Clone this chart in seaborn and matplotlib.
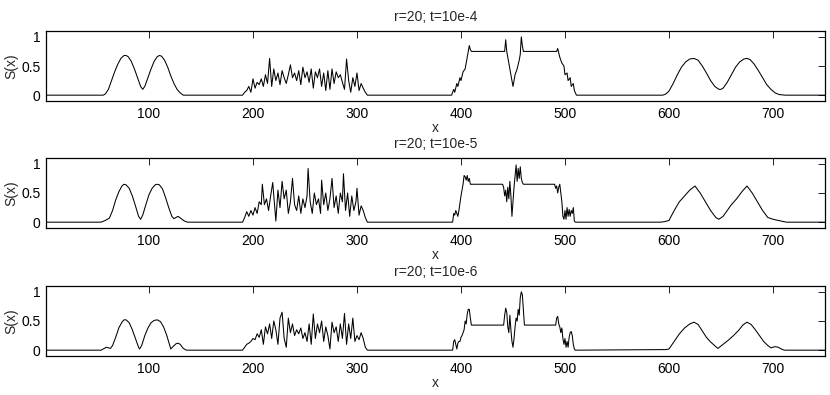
import matplotlib
matplotlib.use("Agg")
import matplotlib.pyplot as plt
import seaborn as sns

# ---------------- data ----------------
titles = ["r=20; t=10e-4", "r=20; t=10e-5", "r=20; t=10e-6"]
x_ticks = [100, 200, 300, 400, 500, 600, 700]
y_ticks = [0, 0.5, 1]
y_tick_labels = ["0", "0.5", "1"]

# panel 1 (t=10e-4)
p1_left_x = [1, 56, 58, 61, 64, 67, 70, 73, 76, 78, 80, 83, 86, 89, 92, 94, 96, 99, 102, 105, 108, 110, 112, 115, 118, 121, 124, 127, 130, 133]
p1_left_y = [0, 0, 0.02, 0.1, 0.25, 0.4, 0.53, 0.63, 0.68, 0.68, 0.66, 0.58, 0.45, 0.3, 0.15, 0.1, 0.15, 0.3, 0.45, 0.58, 0.66, 0.68, 0.67, 0.6, 0.48, 0.33, 0.2, 0.1, 0.04, 0]
p1_noise_x = list(range(190, 312, 2))
p1_noise_y = [0, 0.05, 0.08, 0.15, 0.05, 0.28, 0.12, 0.22, 0.18, 0.28, 0.15, 0.35, 0.2, 0.63, 0.15, 0.45,
              0.25, 0.38, 0.18, 0.42, 0.3, 0.2, 0.35, 0.52, 0.3, 0.38, 0.25, 0.42, 0.18, 0.48, 0.3, 0.4,
              0.22, 0.45, 0.12, 0.4, 0.3, 0.45, 0.15, 0.38, 0.08, 0.42, 0.1, 0.45, 0.2, 0.4, 0.3, 0.35,
              0.22, 0.1, 0.62, 0.25, 0.05, 0.3, 0.15, 0.38, 0.08, 0.2, 0.12, 0.05, 0]
p1_mid_x = [391, 393, 394, 396, 397, 399, 400, 402, 404, 405, 407, 408, 409, 410, 442, 443, 444, 446, 448, 449, 450,
            452, 454, 456, 457, 458, 459, 460, 492, 493, 495, 497, 499, 500, 502, 503, 505, 506, 508, 509, 511]
p1_mid_y = [0, 0.1, 0.05, 0.2, 0.15, 0.3, 0.25, 0.4, 0.45, 0.55, 0.75, 0.85, 0.78, 0.75, 0.75, 0.95, 0.75, 0.55, 0.35, 0.25, 0.15,
            0.35, 0.45, 0.6, 0.7, 1.0, 0.85, 0.75, 0.75, 0.8, 0.65, 0.55, 0.5, 0.35, 0.38, 0.25, 0.3, 0.15, 0.2, 0.08, 0]
p1_right_x = [594, 597, 600, 604, 608, 612, 616, 620, 624, 628, 632, 636, 640, 644, 648, 650, 652, 656, 660, 664, 668, 672, 675, 678,
              682, 686, 690, 694, 698, 702, 706, 712, 750]
p1_right_y = [0, 0.02, 0.07, 0.2, 0.35, 0.48, 0.57, 0.62, 0.63, 0.6, 0.5, 0.38, 0.25, 0.15, 0.1, 0.1, 0.12, 0.22, 0.35, 0.48, 0.57, 0.62, 0.63, 0.61,
              0.53, 0.42, 0.3, 0.18, 0.1, 0.04, 0.01, 0, 0]

# panel 2 (t=10e-5)
p2_left_x = [1, 54, 58, 62, 65, 68, 71, 74, 76, 78, 81, 84, 87, 90, 92, 94, 97, 100, 103, 106, 108, 110, 113, 116, 119, 122, 124, 126, 128, 131, 134, 137]
p2_left_y = [0, 0, 0.03, 0.07, 0.2, 0.38, 0.52, 0.62, 0.65, 0.64, 0.58, 0.45, 0.28, 0.1, 0.05, 0.12, 0.3, 0.47, 0.58, 0.64, 0.65, 0.64, 0.57, 0.42, 0.25, 0.1, 0.06, 0.08, 0.1, 0.06, 0.02, 0]
p2_noise_x = [190, 192, 194, 196, 198, 200, 202, 204, 206, 208, 209, 211, 213, 215, 217, 219, 221, 222, 224, 226, 228, 230,
              232, 234, 236, 238, 240, 242, 244, 246, 248, 250, 252, 253, 255, 257, 259, 261, 263, 265, 266, 268, 270,
              272, 274, 276, 278, 280, 282, 284, 286, 287, 289, 291, 293, 295, 297, 299, 300, 302, 304, 306, 308, 310]
p2_noise_y = [0, 0.08, 0.18, 0.1, 0.2, 0.12, 0.25, 0.15, 0.35, 0.3, 0.65, 0.3, 0.4, 0.2, 0.45, 0.68, 0.25, 0.02, 0.55, 0.25, 0.7, 0.4,
              0.55, 0.15, 0.35, 0.75, 0.3, 0.2, 0.45, 0.15, 0.4, 0.25, 0.45, 0.92, 0.35, 0.15, 0.5, 0.3, 0.4, 0.15, 0.72, 0.3, 0.5,
              0.2, 0.4, 0.75, 0.25, 0.45, 0.15, 0.5, 0.35, 0.83, 0.2, 0.5, 0.1, 0.45, 0.2, 0.35, 0.58, 0.12, 0.28, 0.2, 0.08, 0]
p2_mid_x = [392, 393, 394, 395, 396, 397, 398, 400, 402, 403, 404, 405, 406, 407, 408, 409, 440, 441, 442, 443, 444, 445, 446,
            447, 448, 449, 450, 451, 452, 453, 454, 455, 456, 457, 458, 459, 460, 490, 491, 492, 493, 494, 495, 497, 498, 499,
            500, 501, 502, 503, 504, 505, 506, 507, 508, 509, 510]
p2_mid_y = [0, 0.15, 0.12, 0.2, 0.15, 0.1, 0.2, 0.45, 0.65, 0.8, 0.78, 0.72, 0.8, 0.7, 0.75, 0.65, 0.65, 0.6, 0.45, 0.55, 0.35, 0.6, 0.4,
            0.7, 0.45, 0.1, 0.35, 0.6, 0.8, 0.98, 0.7, 0.92, 0.75, 0.95, 0.75, 0.68, 0.65, 0.65, 0.58, 0.62, 0.5, 0.6, 0.65, 0.35, 0.1, 0.05,
            0.2, 0.05, 0.25, 0.1, 0.22, 0.1, 0.2, 0.15, 0.25, 0.02, 0]
p2_right_x = [592, 596, 600, 605, 610, 615, 620, 625, 630, 635, 640, 645, 648, 652, 656, 660, 665, 670, 675, 680, 685, 690, 695, 700, 705, 710, 713, 750]
p2_right_y = [0, 0.01, 0.03, 0.2, 0.35, 0.45, 0.55, 0.62, 0.5, 0.35, 0.2, 0.08, 0.05, 0.1, 0.2, 0.3, 0.4, 0.52, 0.62, 0.5, 0.35, 0.2, 0.08, 0.05, 0.03, 0.01, 0, 0]

# panel 3 (t=10e-6)
p3_left_x = [1, 54, 57, 59, 61, 63, 65, 68, 71, 74, 76, 78, 81, 84, 87, 90, 91, 93, 96, 99, 102, 105, 108, 111, 114, 117, 120, 121, 123, 126, 128, 130, 133, 136]
p3_left_y = [0, 0, 0.03, 0.05, 0.04, 0.03, 0.08, 0.22, 0.38, 0.48, 0.52, 0.52, 0.47, 0.35, 0.2, 0.05, 0.02, 0.08, 0.25, 0.38, 0.47, 0.51, 0.52, 0.49, 0.4, 0.26, 0.08, 0.02, 0.06, 0.11, 0.12, 0.1, 0.03, 0]
p3_noise_x = list(range(190, 312, 2))
p3_noise_y = [0, 0.05, 0.1, 0.12, 0.15, 0.2, 0.18, 0.28, 0.22, 0.35, 0.1, 0.4, 0.28, 0.45, 0.2, 0.5,
              0.35, 0.1, 0.55, 0.65, 0.2, 0.05, 0.55, 0.3, 0.45, 0.25, 0.35, 0.28, 0.38, 0.2, 0.3, 0.15,
              0.45, 0.1, 0.62, 0.2, 0.45, 0.3, 0.5, 0.15, 0.4, 0.25, 0.02, 0.48, 0.3, 0.4, 0.15, 0.45,
              0.2, 0.63, 0.1, 0.45, 0.2, 0.55, 0.15, 0.25, 0.18, 0.3, 0.2, 0.05, 0]
p3_mid_x = [392, 393, 394, 395, 396, 397, 398, 399, 400, 401, 402, 403, 404, 405, 406, 407, 408, 409, 410, 441, 442, 443, 444,
            445, 446, 447, 448, 449, 450, 451, 452, 453, 454, 455, 456, 457, 458, 459, 460, 461, 491, 492, 493, 494, 495, 496,
            497, 498, 499, 500, 501, 502, 503, 504, 505, 506, 507, 508, 509, 510]
p3_mid_y = [0, 0.15, 0.18, 0.1, 0.02, 0.12, 0.15, 0.15, 0.22, 0.25, 0.3, 0.35, 0.5, 0.45, 0.62, 0.7, 0.7, 0.55, 0.43, 0.43, 0.6, 0.72, 0.65,
            0.4, 0.3, 0.6, 0.35, 0.15, 0.05, 0.2, 0.4, 0.55, 0.5, 0.7, 0.6, 0.9, 1.0, 0.95, 0.7, 0.43, 0.43, 0.55, 0.58, 0.45, 0.4, 0.3,
            0.38, 0.2, 0.1, 0.2, 0.05, 0.15, 0.05, 0.22, 0.3, 0.32, 0.25, 0.1, 0.02, 0]
p3_right_x = [593, 597, 600, 605, 610, 615, 620, 624, 628, 632, 636, 640, 645, 647, 652, 657, 662, 667, 671, 675, 679, 683, 687, 691, 695, 698, 702, 705, 708, 711, 750]
p3_right_y = [0.01, 0.01, 0.02, 0.15, 0.28, 0.38, 0.45, 0.48, 0.44, 0.33, 0.22, 0.14, 0.06, 0.03, 0.1, 0.17, 0.25, 0.34, 0.43, 0.48, 0.44, 0.35, 0.25, 0.15, 0.08, 0.04, 0.06, 0.05, 0.02, 0, 0]

panels = [
    (p1_left_x + p1_noise_x + p1_mid_x + p1_right_x, p1_left_y + p1_noise_y + p1_mid_y + p1_right_y),
    (p2_left_x + p2_noise_x + p2_mid_x + p2_right_x, p2_left_y + p2_noise_y + p2_mid_y + p2_right_y),
    (p3_left_x + p3_noise_x + p3_mid_x + p3_right_x, p3_left_y + p3_noise_y + p3_mid_y + p3_right_y),
]

# ---------------- styling ----------------
sns.set_style("white")
plt.rcParams["font.family"] = ["Liberation Sans", "DejaVu Sans"]
plt.rcParams["font.size"] = 10

fig = plt.figure(figsize=(8.3, 3.95), dpi=100)
left = 46 / 830
width = 779 / 830
height = 70 / 395
bottoms = [(395 - 101) / 395, (395 - 228) / 395, (395 - 356) / 395]

for i, (xs, ys) in enumerate(panels):
    ax = fig.add_axes([left, bottoms[i], width, height])
    sns.lineplot(x=xs, y=ys, ax=ax, color="black", linewidth=0.75, estimator=None, sort=False)
    ax.set_xlim(1, 750)
    ax.set_ylim(-0.1, 1.1)
    ax.set_xticks(x_ticks)
    ax.set_yticks(y_ticks)
    ax.set_yticklabels(y_tick_labels)
    ax.tick_params(direction="in", length=5, width=0.6, top=True, right=True,
                   labeltop=False, labelright=False, labelsize=10, pad=4, colors="black")
    for s in ax.spines.values():
        s.set_visible(True)
        s.set_color("black")
        s.set_linewidth(0.9)
    ax.set_title(titles[i], fontsize=10, pad=7)
    ax.set_xlabel("x", fontsize=10, labelpad=0)
    ax.set_ylabel("S(x)", fontsize=10, labelpad=2)

fig.savefig("out.png", dpi=100)
